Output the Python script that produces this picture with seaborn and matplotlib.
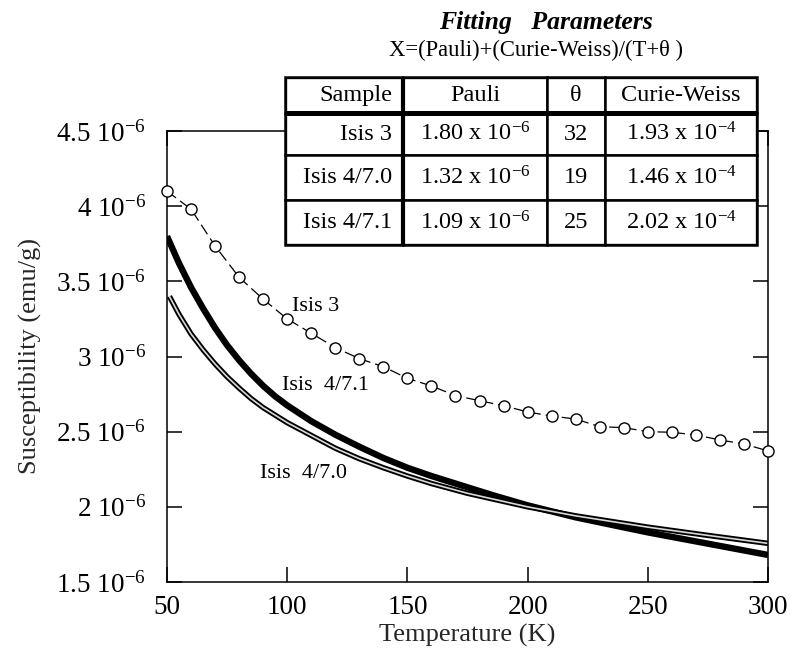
import numpy as np
import pandas as pd
import seaborn as sns
import matplotlib
matplotlib.use("Agg")
import matplotlib.pyplot as plt

# ---------------- data (susceptibility in units of 1e-6 emu/g) ----------------
T_isis3 = [50, 60, 70, 80, 90, 100, 110, 120, 130, 140, 150, 160, 170, 180, 190,
           200, 210, 220, 230, 240, 250, 260, 270, 280, 290, 300]
chi_isis3 = [4.10, 3.98, 3.735, 3.527, 3.381, 3.25, 3.155, 3.059, 2.986, 2.932,
             2.855, 2.804, 2.740, 2.706, 2.673, 2.631, 2.604, 2.584, 2.533, 2.527,
             2.50, 2.496, 2.478, 2.445, 2.418, 2.372]

T_isis471 = [50, 55, 60, 65, 70, 75, 80, 85, 90, 95, 100, 110, 120, 130, 140,
             150, 160, 170, 185, 200, 220, 250, 275, 300]
chi_isis471 = [3.80, 3.62, 3.46, 3.32, 3.19, 3.075, 2.975, 2.885, 2.805, 2.735,
               2.675, 2.57, 2.48, 2.40, 2.325, 2.26, 2.205, 2.155, 2.08, 2.01,
               1.93, 1.83, 1.755, 1.68]

T_isis470 = [51, 55, 60, 65, 70, 75, 80, 85, 90, 95, 100, 110, 120, 130, 140,
             150, 160, 175, 200, 220, 250, 275, 300]
chi_isis470 = [3.40, 3.28, 3.15, 3.045, 2.95, 2.865, 2.79, 2.72, 2.66, 2.61,
               2.56, 2.475, 2.39, 2.32, 2.26, 2.205, 2.155, 2.09, 2.00, 1.94,
               1.865, 1.81, 1.757]

x_ticks = [50, 100, 150, 200, 250, 300]
y_ticks = [1.5, 2.0, 2.5, 3.0, 3.5, 4.0, 4.5]
y_tick_labels = ["1.5 10$^{-6}$", "2 10$^{-6}$", "2.5 10$^{-6}$", "3 10$^{-6}$",
                 "3.5 10$^{-6}$", "4 10$^{-6}$", "4.5 10$^{-6}$"]

# fitting-parameter table
samples = ["Isis 3", "Isis 4/7.0", "Isis 4/7.1"]
pauli = [1.80, 1.32, 1.09]      # x 10^-6
theta = [32, 19, 25]
curie_weiss = [1.93, 1.46, 2.02]  # x 10^-4
col_labels = ["Sample", "Pauli", "\u03b8", "Curie-Weiss"]

# ---------------- style ----------------
sns.set_theme(style="ticks")
plt.rcParams.update({
    "font.family": ["Liberation Serif", "DejaVu Serif"],
    "mathtext.fontset": "custom",
    "mathtext.rm": "Liberation Serif",
    "mathtext.it": "Liberation Serif:italic",
    "mathtext.bf": "Liberation Serif:bold",
    "axes.linewidth": 1.1,
    "text.color": "black",
})

W, H = 798, 658
fig = plt.figure(figsize=(W / 100, H / 100), dpi=100)
fig.patch.set_facecolor("white")
ax = fig.add_axes([167 / W, 1 - 582 / H, (768 - 167) / W, (582 - 131) / H])
ax.set_facecolor("white")

df3 = pd.DataFrame({"T": T_isis3, "chi": np.array(chi_isis3) * 1e-6})
df71 = pd.DataFrame({"T": T_isis471, "chi": np.array(chi_isis471) * 1e-6})
df70 = pd.DataFrame({"T": T_isis470, "chi": np.array(chi_isis470) * 1e-6})

# Isis 4/7.1: thick dense band
sns.lineplot(data=df71, x="T", y="chi", ax=ax, color="black", lw=4.6,
             estimator=None, sort=False, solid_capstyle="butt",
             solid_joinstyle="round")
# Isis 4/7.0: chain of small open markers (outline + white core)
sns.lineplot(data=df70, x="T", y="chi", ax=ax, color="black", lw=3.9,
             estimator=None, sort=False, solid_capstyle="butt",
             solid_joinstyle="round")
sns.lineplot(data=df70, x="T", y="chi", ax=ax, color="#d9d9d9", lw=1.2,
             estimator=None, sort=False, solid_joinstyle="round")
# Isis 3: dashed line + open circles
sns.lineplot(data=df3, x="T", y="chi", ax=ax, color="black", lw=0.9,
             estimator=None, sort=False)
ax.lines[-1].set_linestyle((0, (9, 4)))
sns.scatterplot(data=df3, x="T", y="chi", ax=ax, marker="o", s=64,
                facecolor="white", edgecolor="black", linewidth=1.0,
                zorder=5, clip_on=False)

ax.set_xlim(50, 300)
ax.set_ylim(1.5e-6, 4.5e-6)
ax.set_xticks(x_ticks)
ax.set_xticklabels([str(v) for v in x_ticks])
ax.set_yticks(np.array(y_ticks) * 1e-6)
ax.set_yticklabels(y_tick_labels)
ax.tick_params(axis="both", direction="in", length=10.5, width=1.1,
               top=True, right=True, labelsize=19.5, colors="black")
ax.tick_params(axis="y", pad=15)
ax.tick_params(axis="x", pad=9)
for s in ax.spines.values():
    s.set_color("black")
    s.set_linewidth(1.1)

ax.set_xlabel("Temperature (K)", fontsize=19)
ax.set_ylabel("Susceptibility (emu/g)", fontsize=19)
ax.xaxis.set_label_coords(0.5, -0.092)
ax.yaxis.set_label_coords(-0.208, 0.5)

ax.text(102, 3.33e-6, "Isis 3", fontsize=16, va="center", ha="left")
ax.text(98, 2.81e-6, "Isis  4/7.1", fontsize=16, va="center", ha="left")
ax.text(88.75, 2.225e-6, "Isis  4/7.0", fontsize=16, va="center", ha="left")

# ---------------- title & equation ----------------
fig.text(546 / W, 1 - 22 / H, "Fitting   Parameters", fontsize=18.5,
         fontweight="bold", fontstyle="italic", ha="center", va="center")
fig.text(536 / W, 1 - 50 / H, "X=(Pauli)+(Curie-Weiss)/(T+\u03b8 )",
         fontsize=16.3, ha="center", va="center")

# ---------------- table ----------------
tax = fig.add_axes([285 / W, 1 - 245 / H, 472 / W, 168 / H])
tax.axis("off")
cell_text = []
for smp, p, th, cw in zip(samples, pauli, theta, curie_weiss):
    cell_text.append([smp, f"{p:.2f} x 10$^{{-6}}$", f"{th}",
                      f"{cw:.2f} x 10$^{{-4}}$"])
tbl = tax.table(cellText=cell_text, colLabels=col_labels, bbox=[0, 0, 1, 1],
                cellLoc="center", colLoc="center")
tbl.auto_set_font_size(False)
tbl.set_fontsize(17.5)
col_w = [118, 144, 58, 152]
row_h = [36, 42, 45, 45]
for (r, c), cell in tbl.get_celld().items():
    cell.set_width(col_w[c] / 472)
    cell.set_height(row_h[r] / 168)
    cell.set_linewidth(1.8)
    cell.set_edgecolor("black")
    cell.set_facecolor("white")
    if c == 0:
        cell.get_text().set_ha("right")
        cell.PAD = 0.09
# thicker separators (header rule and first column rule)
tax.plot([0, 1], [1 - 36 / 168] * 2, color="black", lw=3.6, zorder=10,
         solid_capstyle="butt")
tax.plot([118 / 472] * 2, [0, 1], color="black", lw=3.0, zorder=10,
         solid_capstyle="butt")
tax.plot([0, 1, 1, 0, 0], [0, 0, 1, 1, 0], color="black", lw=2.4, zorder=10)
tax.set_xlim(0, 1)
tax.set_ylim(0, 1)

fig.savefig("out.png", dpi=100, facecolor="white")
